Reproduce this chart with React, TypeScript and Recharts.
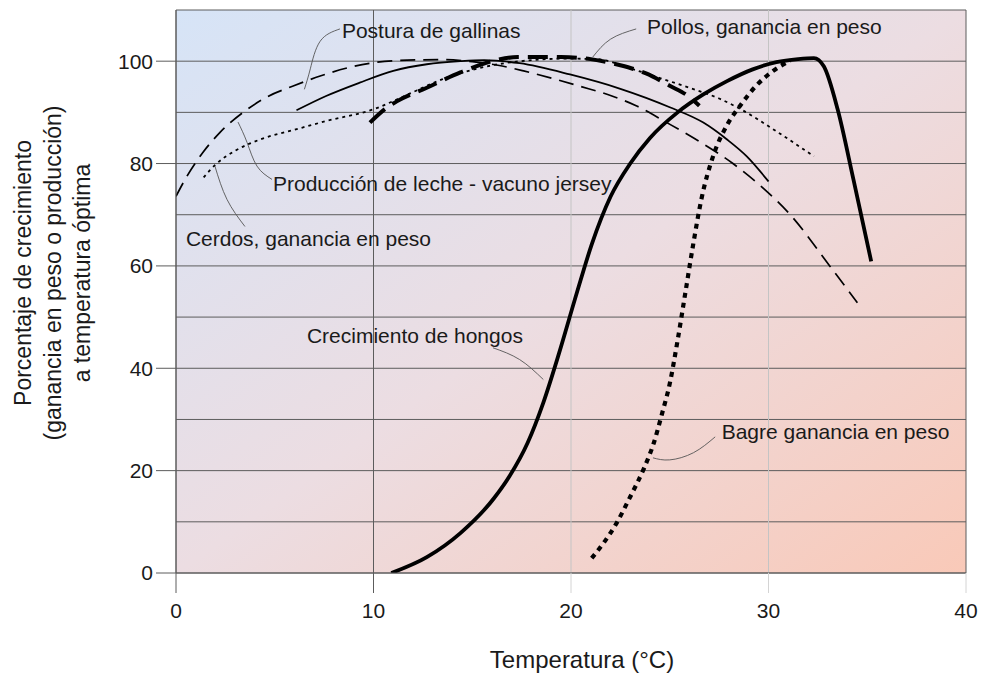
import { LineChart, Line, XAxis, YAxis, CartesianGrid, ReferenceDot } from 'recharts';

// Temperatura (°C) y porcentaje
const lecheTemp = [0, 0.55, 1.37, 2.23, 3.4, 4.6, 5.9, 7.3, 8.8, 10.2, 11.7, 13.5, 15, 16.3, 17.6, 19.1, 20.45, 22, 23.3, 24.85, 26.5, 28.2, 29.7, 31.1, 33.1, 34.5];
const lecheVal = [73.6, 77.5, 82.2, 86.1, 90, 93, 95.1, 97.1, 98.8, 99.8, 100.2, 100.3, 99.9, 99.2, 98.1, 96.6, 95.1, 93.3, 91.3, 88, 84.3, 80, 75.3, 70, 60, 52.8];

const posturaTemp = [6.1, 7.6, 9.3, 11, 12.7, 14.4, 15.6, 17.4, 19.95, 22.5, 25, 26.7, 27.9, 28.9, 30];
const posturaVal = [90.4, 93.2, 95.8, 98.1, 99.4, 100, 100.2, 99.6, 97.4, 94.6, 91, 88, 84.7, 81.4, 76.5];

const cerdosTemp = [1.4, 2, 3, 4.25, 6, 7.6, 10, 11.8, 13.5, 15, 16.3, 18, 19.8, 21.3, 23, 24.5, 26, 27.5, 28.6, 30.4, 32.3];
const cerdosVal = [77.3, 79.8, 82.5, 84.7, 86.6, 88.3, 90.6, 93.6, 96.5, 98.3, 99.4, 100.2, 100.5, 100.4, 98.6, 96.7, 94.8, 92.7, 90.6, 86.3, 81.4];

const pollosTemp = [9.82, 10.67, 11.2, 12.7, 14.4, 16.1, 17.3, 19.5, 21, 22.5, 23.8, 25, 26, 26.5];
const pollosVal = [88, 90.9, 92.2, 94.8, 97.8, 100.1, 100.8, 100.8, 100.4, 99.2, 97.6, 95.2, 93, 91.3];

const hongosTemp = [10.9, 12.7, 14.4, 16.1, 16.9, 17.8, 18.6, 19.4, 20.3, 21.05, 22, 23, 24, 25.4, 26.7, 27.9, 29.2, 30.4, 31.5, 32.3, 32.8, 33.5, 34.3, 35.2];
const hongosVal = [0, 3.1, 7.8, 14.6, 19, 25.4, 33.3, 43, 54.8, 64.2, 73.5, 80, 85, 90, 93.5, 96.1, 98.4, 99.8, 100.4, 100.6, 99, 90.6, 76.9, 60.9];

const bagreTemp = [21.05, 22.3, 23, 23.7, 24.2, 24.6, 25, 25.4, 25.8, 26.2, 26.6, 27.2, 27.9, 28.6, 29.4, 30.2, 31.1];
const bagreVal = [2.9, 9.7, 14.9, 20.5, 25.5, 31, 37, 45.5, 55, 64.5, 73, 81.5, 87.5, 91.5, 95.3, 98, 100.1];

// líneas guía de las etiquetas
const posturaGuiaX = [8.3, 7.3, 6.8, 6.5];
const posturaGuiaY = [106.3, 103.9, 98.5, 94.5];
const pollosGuiaX = [23.3, 22, 21.1];
const pollosGuiaY = [106.3, 104.3, 100.8];
const lecheGuiaX = [4.86, 4.1, 3.6, 3.14];
const lecheGuiaY = [76.9, 79.5, 84.1, 88.1];
const cerdosGuiaX = [3.49, 2.58, 1.97];
const cerdosGuiaY = [67.7, 73, 79.5];
const hongosGuiaX = [16.05, 17.4, 18.6];
const hongosGuiaY = [44, 41.7, 37.8];
const bagreGuiaX = [27.3, 26.2, 25.0, 24.15];
const bagreGuiaY = [26.6, 23.5, 22.1, 22.5];

const etiquetas = [
  { texto: 'Postura de gallinas', x: 8.4, y: 104.5 },
  { texto: 'Pollos, ganancia en peso', x: 23.85, y: 105.3 },
  { texto: 'Producción de leche - vacuno jersey', x: 4.91, y: 74.6 },
  { texto: 'Cerdos, ganancia en peso', x: 0.5, y: 63.8 },
  { texto: 'Crecimiento de hongos', x: 6.63, y: 45.0 },
  { texto: 'Bagre ganancia en peso', x: 27.63, y: 26.2 },
];

const xTicks = [0, 10, 20, 30, 40];
const yTicks = [0, 20, 40, 60, 80, 100];
const yGrid = [0, 10, 20, 30, 40, 50, 60, 70, 80, 90, 100, 110];

const FONT = '"Liberation Sans", Arial, Helvetica, sans-serif';

const zip = (xs: number[], ys: number[]) => xs.map((x, i) => ({ x, y: ys[i] }));

const XTick = (props: any) => {
  const { x, y, payload } = props;
  const light = payload.value >= 20;
  return (
    <g>
      <line x1={x} x2={x} y1={y} y2={y + 20} stroke={light ? '#d4d4d4' : '#5c5c5c'} strokeWidth={1} />
      <text x={x} y={y + 45} textAnchor="middle" fontSize={21} fill="#1a1a1a" fontFamily={FONT}>
        {payload.value}
      </text>
    </g>
  );
};

const GridV = (props: any) => {
  const { x1, x2, y1, y2, index } = props;
  const light = index === 2 || index === 3;
  return <line x1={x1} x2={x2} y1={y1} y2={y2} stroke={light ? '#c4c4c4' : '#5c5c5c'} strokeWidth={1} />;
};

const makeLabel = (texto: string) => (props: any) => {
  const vb = props.viewBox || {};
  return (
    <text x={vb.x} y={vb.y} fontSize={21} fill="#1a1a1a" fontFamily={FONT} textAnchor="start">
      {texto}
    </text>
  );
};

const YTitle = () => (
  <g fontFamily={FONT} fontSize={23} fill="#1a1a1a">
    {['Porcentaje de crecimiento', '(ganancia en peso o producción)', 'a temperatura óptima'].map((t, i) => {
      const cx = 23 + i * 29.5;
      return (
        <text key={i} x={cx} y={273} textAnchor="middle" dominantBaseline="central" transform={`rotate(-90, ${cx}, 273)`}>
          {t}
        </text>
      );
    })}
  </g>
);

const XTitle = () => (
  <text x={582} y={659} textAnchor="middle" dominantBaseline="central" fontSize={24} fill="#1a1a1a" fontFamily={FONT}>
    Temperatura (°C)
  </text>
);

const guia = { stroke: '#555', strokeWidth: 0.9, dot: false, isAnimationActive: false, type: 'natural' as const };

export default function App() {
  return (
    <div style={{ position: 'absolute', left: 0, top: 0, background: '#fff' }}>
      <LineChart width={982} height={674} margin={{ top: 10, right: 16, bottom: 0, left: 0 }}>
        <defs>
          <linearGradient id="fondo" x1="0" y1="0" x2="1" y2="1">
            <stop offset="0%" stopColor="#d6e4f7" />
            <stop offset="50%" stopColor="#ecdde2" />
            <stop offset="100%" stopColor="#f9c9b8" />
          </linearGradient>
        </defs>
        <CartesianGrid
          fill="url(#fondo)"
          fillOpacity={1}
          stroke="#5c5c5c"
          horizontalValues={yGrid}
          verticalValues={xTicks}
          vertical={GridV}
        />
        <XAxis
          type="number"
          dataKey="x"
          domain={[0, 40]}
          ticks={xTicks}
          height={101}
          axisLine={{ stroke: '#5c5c5c' }}
          tickLine={false}
          tickSize={0}
          tickMargin={0}
          tick={XTick}
          label={{ content: XTitle }}
          allowDataOverflow
        />
        <YAxis
          type="number"
          dataKey="y"
          domain={[0, 110]}
          ticks={yTicks}
          width={176}
          axisLine={{ stroke: '#5c5c5c' }}
          tickLine={{ stroke: '#5c5c5c' }}
          tickSize={20}
          tickMargin={3}
          tick={{ fontSize: 21, fill: '#1a1a1a', fontFamily: FONT }}
          label={{ content: YTitle }}
          allowDataOverflow
        />

        <Line data={zip(posturaGuiaX, posturaGuiaY)} dataKey="y" {...guia} />
        <Line data={zip(pollosGuiaX, pollosGuiaY)} dataKey="y" {...guia} />
        <Line data={zip(lecheGuiaX, lecheGuiaY)} dataKey="y" {...guia} />
        <Line data={zip(cerdosGuiaX, cerdosGuiaY)} dataKey="y" {...guia} />
        <Line data={zip(hongosGuiaX, hongosGuiaY)} dataKey="y" {...guia} />
        <Line data={zip(bagreGuiaX, bagreGuiaY)} dataKey="y" {...guia} />

        <Line data={zip(lecheTemp, lecheVal)} dataKey="y" name="Producción de leche" type="monotone" stroke="#000" strokeWidth={1.7} strokeDasharray="15 8" dot={false} isAnimationActive={false} />
        <Line data={zip(posturaTemp, posturaVal)} dataKey="y" name="Postura de gallinas" type="monotone" stroke="#000" strokeWidth={1.8} dot={false} isAnimationActive={false} />
        <Line data={zip(cerdosTemp, cerdosVal)} dataKey="y" name="Cerdos" type="monotone" stroke="#000" strokeWidth={1.8} strokeDasharray="3 4" dot={false} isAnimationActive={false} />
        <Line data={zip(pollosTemp, pollosVal)} dataKey="y" name="Pollos" type="monotone" stroke="#000" strokeWidth={4} strokeDasharray="20 9" dot={false} isAnimationActive={false} />
        <Line data={zip(hongosTemp, hongosVal)} dataKey="y" name="Crecimiento de hongos" type="monotone" stroke="#000" strokeWidth={3.8} dot={false} isAnimationActive={false} />
        <Line data={zip(bagreTemp, bagreVal)} dataKey="y" name="Bagre" type="monotone" stroke="#000" strokeWidth={4.2} strokeDasharray="5 5" dot={false} isAnimationActive={false} />

        {etiquetas.map((e) => (
          <ReferenceDot key={e.texto} x={e.x} y={e.y} r={0} fill="none" stroke="none" label={makeLabel(e.texto)} />
        ))}
      </LineChart>
    </div>
  );
}
